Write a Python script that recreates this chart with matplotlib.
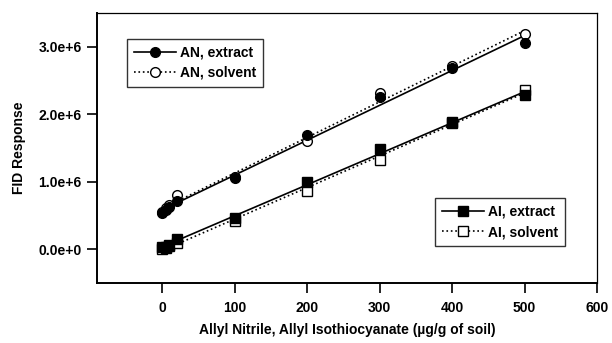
import numpy as np
import matplotlib.pyplot as plt

plt.rcParams['font.family'] = ['Liberation Sans', 'DejaVu Sans']
plt.rcParams['font.weight'] = 'bold'
plt.rcParams['axes.labelweight'] = 'bold'

# Data
x = [0, 5, 10, 20, 100, 200, 300, 400, 500]
an_extract = [0.53e6, 0.58e6, 0.63e6, 0.71e6, 1.05e6, 1.69e6, 2.25e6, 2.68e6, 3.05e6]
an_solvent = [0.55e6, 0.61e6, 0.66e6, 0.80e6, 1.07e6, 1.60e6, 2.32e6, 2.71e6, 3.19e6]
ai_extract = [0.03e6, 0.04e6, 0.06e6, 0.15e6, 0.46e6, 1.00e6, 1.48e6, 1.88e6, 2.28e6]
ai_solvent = [0.00e6, 0.02e6, 0.05e6, 0.09e6, 0.42e6, 0.86e6, 1.32e6, 1.87e6, 2.36e6]

x_ticks = [0, 100, 200, 300, 400, 500, 600]
y_ticks = [0, 1e6, 2e6, 3e6]
y_labels = ["0.0e+0", "1.0e+6", "2.0e+6", "3.0e+6"]

fig = plt.figure(figsize=(6.12, 3.43), dpi=100)
ax = fig.add_axes([0.1585, 0.175, 0.817, 0.787])

xs = np.array(x)
xfit = np.array([0, 500])


def plot_series(y, marker, filled, ls, label):
    k, b = np.polyfit(xs, y, 1)
    fc = 'black' if filled else 'white'
    ax.plot(xfit, k * xfit + b, color='black', ls=ls, lw=1.2, zorder=2)
    ax.plot(xs, y, ls='none', marker=marker, ms=7, mfc=fc, mec='black',
            mew=1.0, zorder=3)
    # legend handle
    return ax.plot([], [], color='black', ls=ls, lw=1.2, marker=marker, ms=7,
                   mfc=fc, mec='black', mew=1.0, label=label)[0]


h1 = plot_series(an_solvent, 'o', False, ':', 'AN, solvent')
h2 = plot_series(an_extract, 'o', True, '-', 'AN, extract')
h3 = plot_series(ai_solvent, 's', False, ':', 'AI, solvent')
h4 = plot_series(ai_extract, 's', True, '-', 'AI, extract')

ax.set_xlim(-90, 600)
ax.set_ylim(-0.5e6, 3.5e6)
ax.set_xticks(x_ticks)
ax.set_yticks(y_ticks)
ax.set_yticklabels(y_labels)
ax.tick_params(direction='out', length=7, width=1.2, labelsize=10, pad=4)
ax.tick_params(axis='x', pad=6)
ax.tick_params(top=False, right=False)
for s in ['left', 'bottom']:
    ax.spines[s].set_linewidth(1.4)
for s in ['top', 'right']:
    ax.spines[s].set_linewidth(0.9)

ax.set_xlabel("Allyl Nitrile, Allyl Isothiocyanate (\u00b5g/g of soil)",
              fontsize=10, labelpad=6)
ax.set_ylabel("FID Response", fontsize=10, labelpad=9)

leg_kw = dict(fontsize=10, frameon=True, fancybox=False, edgecolor='black',
              handlelength=3.0, handletextpad=0.3, borderpad=0.5,
              labelspacing=0.45, borderaxespad=0)
leg1 = ax.legend(handles=[h2, h1], loc='upper left',
                 bbox_to_anchor=(0.06, 0.905), **leg_kw)
leg1.get_frame().set_linewidth(1.0)
ax.add_artist(leg1)
leg2 = ax.legend(handles=[h4, h3], loc='lower right',
                 bbox_to_anchor=(0.936, 0.137), **leg_kw)
leg2.get_frame().set_linewidth(1.0)

fig.savefig("out.png", dpi=100)
